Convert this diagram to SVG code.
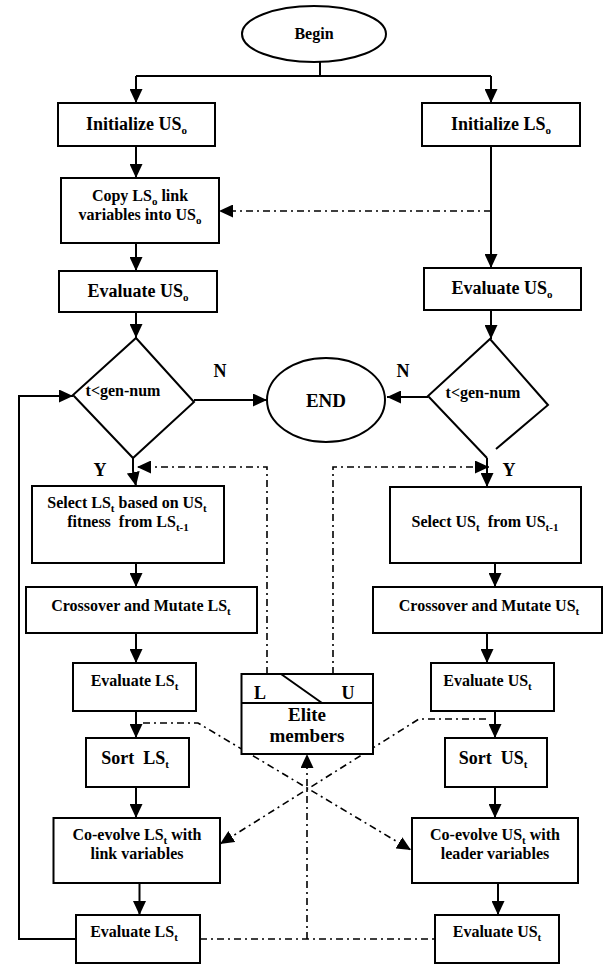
<svg xmlns="http://www.w3.org/2000/svg" width="603" height="965" viewBox="0 0 603 965">
<defs>
<marker id="ah" viewBox="0 0 14 13" refX="14" refY="6.5" markerWidth="14" markerHeight="13" markerUnits="userSpaceOnUse" orient="auto"><path d="M0,0 L14,6.5 L0,13 z" fill="#000"/></marker>
</defs>
<style>
.box{fill:#fff;stroke:#000;stroke-width:2}
.ln{fill:none;stroke:#000;stroke-width:2}
.ar{marker-end:url(#ah)}
.dd{fill:none;stroke:#000;stroke-width:1.6;stroke-dasharray:7 4 2 4}
text{font-family:"Liberation Serif","Times New Roman",serif;font-weight:bold;fill:#000;text-anchor:middle}
.t16{font-size:16px}
.t18{font-size:18px}
.t19{font-size:19px}
.s{font-size:11px}
</style>
<rect width="603" height="965" fill="#fff"/>
<g id="connectors">
<path class="ln" d="M320,62 V76"/>
<path class="ln" d="M136,76 H491"/>
<path class="ln ar" d="M136,76 V103"/>
<path class="ln ar" d="M491,76 V103"/>
<path class="ln ar" d="M136,146 V178"/>
<path class="ln ar" d="M491,146 V268"/>
<path class="ln ar" d="M136,243 V271"/>
<path class="ln ar" d="M136,312 V338"/>
<path class="ln ar" d="M491,310 V339"/>
<path class="ln ar" d="M194,400 H267"/>
<path class="ln ar" d="M428,397 H387"/>
<path class="ln ar" d="M133,458 V471 L136,486"/>
<path class="ln ar" d="M487,458 V487"/>
<path class="ln ar" d="M136,563 V587"/>
<path class="ln ar" d="M495,563 V587"/>
<path class="ln ar" d="M136,633 V663"/>
<path class="ln ar" d="M487,633 V663"/>
<path class="ln ar" d="M136,711 V738"/>
<path class="ln ar" d="M495,711 V738"/>
<path class="ln ar" d="M136,787 V818"/>
<path class="ln ar" d="M495,787 V818"/>
<path class="ln ar" d="M139.5,883 V915"/>
<path class="ln ar" d="M498,883 V915"/>
<path class="ln ar" d="M76,939 H19 V396 H73"/>
<path class="dd ar" d="M491,211 H219"/>
<path class="dd ar" d="M267,674 V467 H137"/>
<path class="dd ar" d="M333,674 V467 H489"/>
<path class="dd" d="M200,939 H435"/>
<path class="dd ar" d="M307,939 V754"/>
<path class="dd ar" d="M143,723 H198 L411,850"/>
<path class="dd ar" d="M486,719 H419 L220,844"/>
</g>
<g id="begin"><ellipse class="box" cx="314" cy="34" rx="72" ry="28"/><text class="t16" x="314" y="39">Begin</text></g>
<g id="initUS"><rect class="box" x="58" y="103" width="157" height="43"/><text class="t18" x="136.5" y="130">Initialize US<tspan class="s" dy="4">o</tspan></text></g>
<g id="initLS"><rect class="box" x="422" y="103" width="158" height="43"/><text class="t18" x="501" y="130">Initialize LS<tspan class="s" dy="4">o</tspan></text></g>
<g id="copy"><rect class="box" x="61" y="178" width="158" height="65"/><text class="t16" x="140" y="201">Copy LS<tspan class="s" dy="4">o</tspan><tspan dy="-4"> link</tspan></text><text class="t16" x="140" y="220">variables into US<tspan class="s" dy="4">o</tspan></text></g>
<g id="evalUS0L"><rect class="box" x="59" y="271" width="158" height="41"/><text class="t18" x="138" y="297">Evaluate US<tspan class="s" dy="4">o</tspan></text></g>
<g id="evalUS0R"><rect class="box" x="424" y="268" width="157" height="42"/><text class="t18" x="502" y="294">Evaluate US<tspan class="s" dy="4">o</tspan></text></g>
<g id="decL"><polygon class="box" points="136,338 194,402 133,458 73,395"/><text class="t16" x="123" y="396">t&lt;gen-num</text></g>
<g id="end"><ellipse class="box" cx="326" cy="400" rx="59" ry="42"/><text class="t19" x="326" y="407">END</text></g>
<g id="decR"><path class="ln" d="M487,458 L428,396 L490,339 L548,405 L496,449" fill="#fff"/><text class="t16" x="483" y="398">t&lt;gen-num</text></g>
<g id="labels"><text class="t18" x="220" y="377">N</text><text class="t18" x="403" y="377">N</text><text class="t18" x="100" y="476">Y</text><text class="t18" x="509" y="476">Y</text></g>
<g id="selLS"><rect class="box" x="32" y="486" width="192" height="77"/><text class="t16" x="127" y="508">Select LS<tspan class="s" dy="4">t</tspan><tspan dy="-4"> based on US</tspan><tspan class="s" dy="4">t</tspan></text><text class="t16" x="128" y="527">fitness&#160; from LS<tspan class="s" dy="4">t-1</tspan></text></g>
<g id="selUS"><rect class="box" x="390" y="487" width="191" height="76"/><text class="t16" x="485" y="527">Select US<tspan class="s" dy="4">t</tspan><tspan dy="-4">&#160; from US</tspan><tspan class="s" dy="4">t-1</tspan></text></g>
<g id="crossLS"><rect class="box" x="26" y="587" width="231" height="46"/><text class="t16" x="141" y="611">Crossover and Mutate LS<tspan class="s" dy="4">t</tspan></text></g>
<g id="crossUS"><rect class="box" x="373" y="587" width="229" height="46"/><text class="t16" x="489" y="611">Crossover and Mutate US<tspan class="s" dy="4">t</tspan></text></g>
<g id="evalLS1"><rect class="box" x="73" y="663" width="123" height="48"/><text class="t16" x="134.5" y="686">Evaluate LS<tspan class="s" dy="4">t</tspan></text></g>
<g id="evalUS1"><rect class="box" x="431" y="663" width="123" height="48"/><text class="t16" x="487.5" y="686">Evaluate US<tspan class="s" dy="4">t</tspan></text></g>
<g id="elite"><rect class="box" x="241.5" y="674" width="131.5" height="80"/><path class="ln" d="M241.5,703 H373 M281,674 L322,703"/><text class="t18" x="260" y="699">L</text><text class="t18" x="348" y="699">U</text><text class="t19" x="307" y="721">Elite</text><text class="t19" x="307" y="742">members</text></g>
<g id="sortLS"><rect class="box" x="86" y="738" width="103" height="49"/><text class="t18" x="135" y="764">Sort&#160; LS<tspan class="s" dy="4">t</tspan></text></g>
<g id="sortUS"><rect class="box" x="445" y="738" width="102" height="49"/><text class="t18" x="493" y="764">Sort&#160; US<tspan class="s" dy="4">t</tspan></text></g>
<g id="coLS"><rect class="box" x="53.5" y="818" width="166.5" height="65"/><text class="t16" x="137" y="840">Co-evolve LS<tspan class="s" dy="4">t</tspan><tspan dy="-4"> with</tspan></text><text class="t16" x="137" y="859">link variables</text></g>
<g id="coUS"><rect class="box" x="412" y="818" width="166" height="65"/><text class="t16" x="495" y="840">Co-evolve US<tspan class="s" dy="4">t</tspan><tspan dy="-4"> with</tspan></text><text class="t16" x="495" y="859">leader variables</text></g>
<g id="evalLS2"><rect class="box" x="76" y="915" width="124" height="48"/><text class="t16" x="134" y="937">Evaluate LS<tspan class="s" dy="4">t</tspan></text></g>
<g id="evalUS2"><rect class="box" x="435" y="915" width="124" height="48"/><text class="t16" x="497" y="937">Evaluate US<tspan class="s" dy="4">t</tspan></text></g>
</svg>
